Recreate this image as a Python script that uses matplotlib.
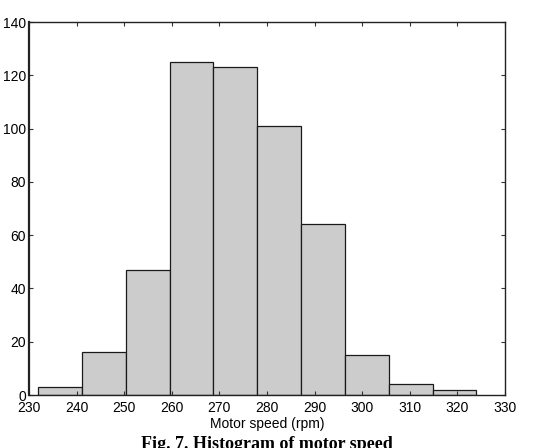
import matplotlib
matplotlib.use("Agg")
import matplotlib.pyplot as plt
import numpy as np

bin_start = 231.9
bin_width = 9.21
counts = [3, 16, 47, 125, 123, 101, 64, 15, 4, 2]
xticks = [230, 240, 250, 260, 270, 280, 290, 300, 310, 320, 330]
yticks = [0, 20, 40, 60, 80, 100, 120, 140]

edges = bin_start + bin_width * np.arange(len(counts) + 1)

fig = plt.figure(figsize=(5.34, 4.48), dpi=100)
ax = fig.add_axes([29/534, 1 - 395/448, (505 - 29)/534, (395 - 22)/448])
ax.bar(edges[:-1], counts, width=bin_width, align='edge',
       color='#cccccc', edgecolor='#1a1a1a', linewidth=0.9)
ax.set_xlim(230, 330)
ax.set_ylim(0, 140)
ax.set_xticks(xticks)
ax.set_yticks(yticks)
for lab in ax.get_xticklabels() + ax.get_yticklabels():
    lab.set_family('Liberation Sans')
    lab.set_fontsize(10)
ax.tick_params(axis='x', pad=4)
ax.tick_params(axis='y', pad=2)
ax.tick_params(direction='in', length=3, width=0.8, top=True, right=True,
               colors='#333333', labelcolor='black')
for s in ax.spines.values():
    s.set_linewidth(1.0)
    s.set_color('#222222')
ax.spines['left'].set_linewidth(1.6)
ax.set_xlabel('Motor speed (rpm)', family='Liberation Sans', fontsize=10, labelpad=2)
fig.text(0.5, 1 - 436/448, 'Fig. 7. Histogram of motor speed', ha='center', va='top',
         family='Liberation Serif', fontweight='bold', fontsize=13)
fig.savefig('out.png', dpi=100)
